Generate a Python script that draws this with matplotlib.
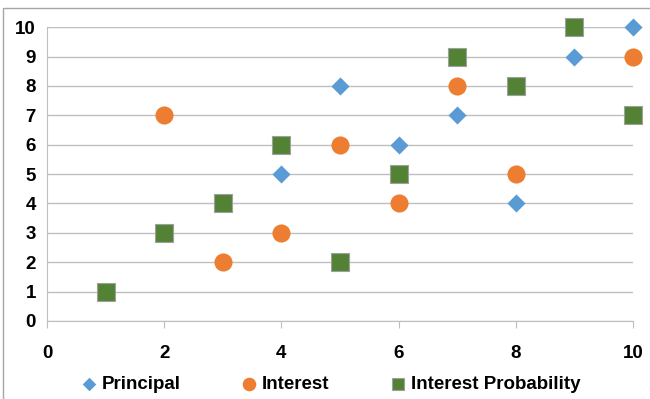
import matplotlib.pyplot as plt
from matplotlib.patches import Rectangle

# data
principal_x = [1, 2, 3, 4, 5, 6, 7, 8, 9, 10]
principal_y = [1, 3, 4, 5, 8, 6, 7, 4, 9, 10]
interest_x = [2, 3, 4, 5, 6, 7, 8, 10]
interest_y = [7, 2, 3, 6, 4, 8, 5, 9]
prob_x = [1, 2, 3, 4, 5, 6, 7, 8, 9, 10]
prob_y = [1, 3, 4, 6, 2, 5, 9, 8, 10, 7]

plt.rcParams['font.family'] = ['Liberation Sans', 'DejaVu Sans']
plt.rcParams['font.weight'] = 'bold'

fig = plt.figure(figsize=(6.5, 3.99), dpi=100)
ax = fig.add_axes([0.0723, 0.1955, 0.9017, 0.7365])

ax.scatter(principal_x, principal_y, marker='D', s=85, color='#5B9BD5',
           label='Principal', zorder=3, linewidths=0, clip_on=False)
ax.scatter(interest_x, interest_y, marker='o', s=170, color='#ED7D31',
           label='Interest', zorder=4, linewidths=0, clip_on=False)
ax.scatter(prob_x, prob_y, marker='s', s=150, color='#548235',
           edgecolors='#A0A0A0', linewidths=0.8,
           label='Interest Probability', zorder=5, clip_on=False)

ax.set_xlim(0, 10)
ax.set_ylim(0, 10)
ax.set_xticks(range(0, 11, 2))
ax.set_yticks(range(0, 11))
ax.yaxis.grid(True, color='#BFBFBF', linewidth=1)
ax.set_axisbelow(True)
for s in ['top', 'right']:
    ax.spines[s].set_visible(False)
ax.spines['left'].set_color('#BFBFBF')
ax.spines['bottom'].set_color('#BFBFBF')
ax.tick_params(axis='y', length=0, labelsize=13.5, pad=8)
ax.tick_params(axis='x', length=5, color='#BFBFBF', labelsize=13.5, pad=12)

ax.legend(loc='upper center', bbox_to_anchor=(0.482, -0.13), ncol=3,
          frameon=False, fontsize=13.5, handlelength=1.1, handletextpad=0.15,
          columnspacing=3.1, markerscale=0.75)

fig.patches.append(Rectangle((0.005, -0.01), 1.2, 0.99, transform=fig.transFigure,
                             fill=False, edgecolor='#A6A6A6', linewidth=1))

fig.savefig('out.png', dpi=100)
